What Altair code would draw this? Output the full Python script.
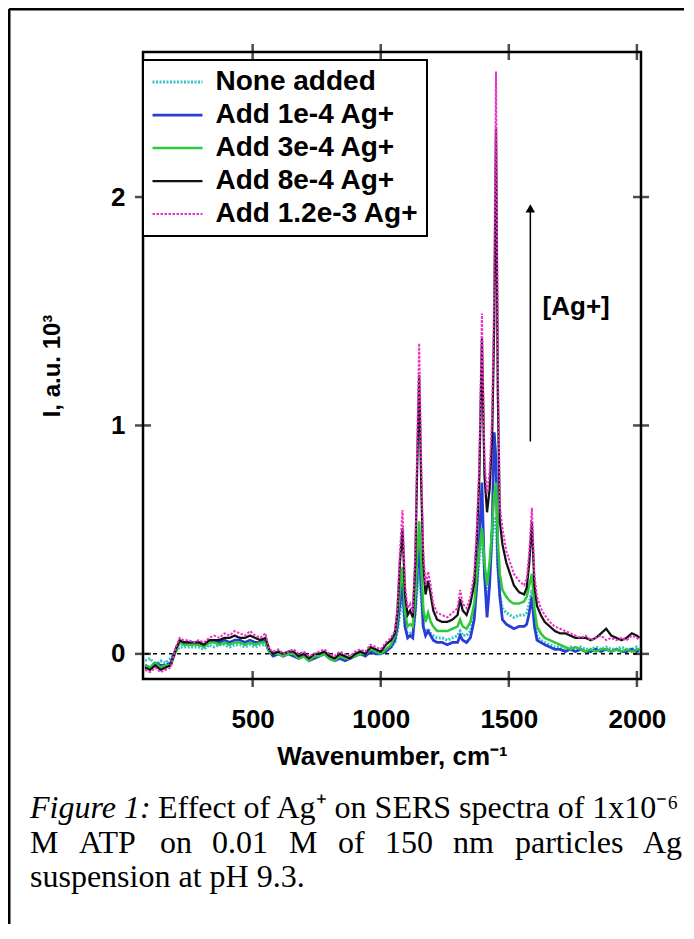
import altair as alt
import pandas as pd

# ---------------- data ----------------
wavenumber = [
    80, 100, 120, 140, 160, 180, 200, 215, 230, 250,
    270, 290, 310, 330, 350, 370, 390, 410, 430, 450,
    470, 490, 510, 530, 550, 565, 580, 600, 620, 640,
    660, 680, 700, 720, 740, 760, 780, 800, 820, 840,
    860, 880, 900, 920, 940, 960, 980, 1000, 1020, 1040,
    1055, 1065, 1075, 1085, 1095, 1105, 1115, 1125, 1135, 1142,
    1150, 1158, 1166, 1175, 1185, 1195, 1205, 1220, 1240, 1260,
    1280, 1300, 1310, 1320, 1335, 1350, 1365, 1375, 1385, 1395,
    1405, 1415, 1425, 1435, 1443, 1450, 1457, 1465, 1475, 1490,
    1505, 1520, 1540, 1560, 1570, 1580, 1590, 1600, 1610, 1625,
    1640, 1660, 1680, 1700, 1720, 1740, 1760, 1780, 1800, 1820,
    1840, 1860, 1880, 1900, 1920, 1940, 1960, 1980, 2000, 2010,
]

none_added = [
    -0.03, -0.02, -0.05, -0.03, -0.04, -0.02, 0.01, 0.03, 0.03, 0.03,
    0.03, 0.03, 0.02, 0.04, 0.03, 0.04, 0.04, 0.03, 0.04, 0.04,
    0.03, 0.04, 0.03, 0.04, 0.04, 0.01, 0.00, 0.01, 0.00, 0.01,
    0.00, -0.01, 0.00, -0.02, -0.01, 0.00, 0.01, -0.01, -0.02, -0.01,
    -0.02, -0.01, 0.00, 0.01, 0.00, 0.02, 0.01, 0.01, 0.02, 0.03,
    0.05, 0.10, 0.18, 0.24, 0.12, 0.08, 0.09, 0.08, 0.18, 0.28,
    0.36, 0.25, 0.12, 0.09, 0.11, 0.09, 0.08, 0.07, 0.07, 0.06,
    0.07, 0.08, 0.10, 0.08, 0.08, 0.10, 0.18, 0.30, 0.42, 0.55,
    0.35, 0.25, 0.35, 0.50, 0.60, 0.58, 0.38, 0.25, 0.20, 0.18,
    0.17, 0.16, 0.17, 0.17, 0.18, 0.22, 0.28, 0.15, 0.08, 0.06,
    0.05, 0.04, 0.03, 0.03, 0.02, 0.03, 0.02, 0.03, 0.02, 0.02,
    0.03, 0.02, 0.03, 0.02, 0.02, 0.03, 0.02, 0.02, 0.03, 0.02,
]

add_1e4 = [
    -0.05, -0.06, -0.04, -0.05, -0.05, -0.04, 0.02, 0.05, 0.05, 0.05,
    0.04, 0.05, 0.04, 0.05, 0.06, 0.05, 0.06, 0.05, 0.06, 0.06,
    0.05, 0.06, 0.05, 0.05, 0.06, 0.01, -0.01, 0.00, -0.01, 0.00,
    -0.01, -0.02, -0.01, -0.03, -0.02, -0.01, 0.00, -0.02, -0.03, -0.02,
    -0.03, -0.02, -0.01, 0.00, -0.01, 0.01, 0.00, 0.00, 0.01, 0.03,
    0.06, 0.12, 0.22, 0.31, 0.12, 0.07, 0.08, 0.07, 0.20, 0.35,
    0.49, 0.30, 0.12, 0.08, 0.10, 0.08, 0.06, 0.05, 0.05, 0.04,
    0.05, 0.05, 0.08, 0.06, 0.05, 0.07, 0.15, 0.30, 0.50, 0.75,
    0.35, 0.16, 0.30, 0.55, 0.97, 0.85, 0.40, 0.25, 0.15, 0.13,
    0.12, 0.11, 0.12, 0.12, 0.13, 0.18, 0.25, 0.12, 0.06, 0.05,
    0.04, 0.03, 0.02, 0.02, 0.01, 0.02, 0.01, 0.02, 0.01, 0.01,
    0.02, 0.01, 0.02, 0.01, 0.02, 0.01, 0.01, 0.02, 0.01, 0.02,
]

add_3e4 = [
    -0.05, -0.06, -0.04, -0.06, -0.05, -0.05, 0.01, 0.05, 0.04, 0.04,
    0.04, 0.04, 0.03, 0.05, 0.05, 0.04, 0.05, 0.04, 0.05, 0.05,
    0.04, 0.05, 0.04, 0.05, 0.05, 0.01, 0.00, 0.00, -0.01, 0.00,
    0.00, -0.02, -0.01, -0.03, -0.01, -0.01, 0.00, -0.02, -0.03, -0.01,
    -0.02, -0.02, -0.01, 0.00, 0.00, 0.02, 0.01, 0.00, 0.02, 0.04,
    0.08, 0.15, 0.28, 0.38, 0.18, 0.12, 0.13, 0.12, 0.25, 0.42,
    0.58, 0.40, 0.20, 0.14, 0.18, 0.14, 0.12, 0.10, 0.10, 0.10,
    0.11, 0.12, 0.15, 0.12, 0.11, 0.14, 0.22, 0.35, 0.45, 0.55,
    0.40, 0.30, 0.40, 0.55, 0.70, 0.75, 0.50, 0.35, 0.28, 0.25,
    0.23, 0.22, 0.22, 0.23, 0.25, 0.30, 0.35, 0.20, 0.12, 0.09,
    0.07, 0.06, 0.05, 0.04, 0.03, 0.02, 0.03, 0.02, 0.01, 0.02,
    0.01, 0.02, 0.02, 0.01, 0.02, 0.01, 0.02, 0.01, 0.02, 0.02,
]

add_8e4 = [
    -0.06, -0.07, -0.05, -0.07, -0.06, -0.05, 0.02, 0.06, 0.05, 0.05,
    0.05, 0.05, 0.04, 0.06, 0.06, 0.06, 0.07, 0.07, 0.08, 0.07,
    0.07, 0.08, 0.07, 0.06, 0.07, 0.02, 0.00, 0.01, 0.00, 0.01,
    0.01, -0.01, 0.00, -0.02, 0.00, 0.00, 0.01, -0.01, -0.02, 0.00,
    -0.01, -0.02, 0.00, 0.01, 0.00, 0.03, 0.02, 0.01, 0.04, 0.06,
    0.09, 0.18, 0.40, 0.55, 0.26, 0.17, 0.19, 0.16, 0.40, 0.80,
    1.22, 0.75, 0.40, 0.26, 0.32, 0.26, 0.19, 0.15, 0.14, 0.14,
    0.15, 0.17, 0.24, 0.19, 0.17, 0.22, 0.31, 0.50, 0.78, 1.38,
    0.78, 0.62, 0.72, 0.95, 1.45, 2.30, 1.15, 0.58, 0.48, 0.40,
    0.35, 0.30, 0.27, 0.26, 0.29, 0.40, 0.58, 0.30, 0.21, 0.17,
    0.14, 0.12, 0.10, 0.09, 0.09, 0.08, 0.07, 0.07, 0.07, 0.06,
    0.07, 0.09, 0.11, 0.08, 0.07, 0.06, 0.07, 0.09, 0.08, 0.07,
]

add_12e3 = [
    -0.07, -0.08, -0.06, -0.08, -0.07, -0.06, 0.03, 0.07, 0.06, 0.06,
    0.05, 0.06, 0.05, 0.07, 0.08, 0.07, 0.09, 0.08, 0.10, 0.09,
    0.08, 0.10, 0.08, 0.07, 0.09, 0.02, 0.01, 0.02, 0.00, 0.01,
    0.02, 0.00, 0.01, -0.01, 0.00, 0.01, 0.02, 0.00, -0.01, 0.01,
    0.00, -0.01, 0.01, 0.02, 0.01, 0.04, 0.03, 0.02, 0.05, 0.07,
    0.10, 0.20, 0.45, 0.63, 0.30, 0.20, 0.22, 0.18, 0.45, 0.90,
    1.36, 0.85, 0.45, 0.30, 0.36, 0.30, 0.22, 0.18, 0.17, 0.16,
    0.18, 0.20, 0.28, 0.22, 0.20, 0.25, 0.35, 0.55, 0.85, 1.49,
    0.85, 0.70, 0.80, 1.05, 1.60, 2.55, 1.30, 0.65, 0.55, 0.45,
    0.40, 0.35, 0.32, 0.30, 0.33, 0.45, 0.64, 0.35, 0.25, 0.20,
    0.17, 0.14, 0.12, 0.11, 0.10, 0.09, 0.08, 0.07, 0.08, 0.06,
    0.07, 0.08, 0.06, 0.07, 0.06, 0.07, 0.06, 0.08, 0.07, 0.06,
]

series_names = ["None added", "Add 1e-4 Ag+", "Add 3e-4 Ag+", "Add 8e-4 Ag+", "Add 1.2e-3 Ag+"]
series_colors = ["#36c4c8", "#2a3cd6", "#2ec83c", "#111111", "#ee30c8"]
series_dash = [[2, 1.5], [1, 0], [1, 0], [1, 0], [2.5, 1.5]]
series_width = [3, 2, 2, 2, 3.5]

x_ticks = [500, 1000, 1500, 2000]
y_ticks = [0, 1, 2]
x_domain = [72, 2016]
y_domain = [-0.11, 2.635]

zero_x = [80]
zero_x2 = [2010]
zero_y = [0]

arrow_x = [1584]
arrow_y = [0.93]
arrow_y2 = [1.95]
note_x = [1763]
note_y = [1.52]
note_text = ["[Ag+]"]

caption_lead = ["Figure 1:"]
caption_line1 = ["Effect of Ag\u207a on SERS spectra of 1x10\u207b\u2076"]
caption_line2_words = ["M", "ATP", "on", "0.01", "M", "of", "150", "nm", "particles", "Ag"]
caption_line2_px = [30, 79, 160, 212, 289, 338, 385, 453, 515, 643]
caption_line3 = ["suspension at pH 9.3."]

# ---------------- build ----------------
rows = []
for name, vals in zip(series_names, [none_added, add_1e4, add_3e4, add_8e4, add_12e3]):
    for w, v in zip(wavenumber, vals):
        rows.append({"wn": w, "I": v, "series": name})
df = pd.DataFrame(rows)

W, H = 498, 627
LEFT, TOP = 143, 52  # page position of the plot origin
SANS = "Liberation Sans"
SERIF = "Liberation Serif"

xs = alt.Scale(domain=x_domain, nice=False, zero=False)
ys = alt.Scale(domain=y_domain, nice=False, zero=False)

x_axis = alt.Axis(
    values=x_ticks, ticks=False, tickSize=0, domain=False, grid=False, format="d",
    labelFont=SANS, labelFontSize=26, labelFontWeight="bold", labelColor="black",
    labelPadding=27, labelFlush=False,
    title="Wavenumber, cm\u207b\u00b9", titleFont=SANS, titleFontSize=26,
    titleFontWeight="bold", titleColor="black", titlePadding=11)
y_axis = alt.Axis(
    values=y_ticks, ticks=False, tickSize=0, domain=False, grid=False, format="d",
    labelFont=SANS, labelFontSize=26, labelFontWeight="bold", labelColor="black",
    labelPadding=18,
    title="I, a.u. 10\u00b3", titleFont=SANS, titleFontSize=24,
    titleFontWeight="bold", titleColor="black", titlePadding=46)

leg = alt.Legend(
    title=None, orient="none", legendX=0, legendY=8,
    symbolType="M-2,0H2", symbolSize=625, symbolOffset=12.5,
    labelOffset=24, labelFontSize=28, labelFont=SANS, labelFontWeight="bold",
    labelColor="black", labelLimit=400, rowPadding=5, padding=8,
    strokeColor="black", fillColor="white", cornerRadius=0,
)

lines = alt.Chart(df).mark_line(clip=True).encode(
    x=alt.X("wn:Q", scale=xs, axis=x_axis),
    y=alt.Y("I:Q", scale=ys, axis=y_axis),
    color=alt.Color("series:N", scale=alt.Scale(domain=series_names, range=series_colors), legend=leg),
    strokeDash=alt.StrokeDash("series:N", scale=alt.Scale(domain=series_names, range=series_dash), legend=leg),
    strokeWidth=alt.StrokeWidth("series:N", scale=alt.Scale(domain=series_names, range=series_width), legend=leg),
)

zero = alt.Chart(pd.DataFrame({"x": zero_x, "x2": zero_x2, "y": zero_y})).mark_rule(
    color="black", strokeDash=[4, 4], strokeWidth=1.5
).encode(x=alt.X("x:Q", scale=xs, axis=x_axis), x2="x2:Q", y=alt.Y("y:Q", scale=ys, axis=y_axis))

xt = pd.DataFrame({"t": x_ticks})
yt = pd.DataFrame({"t": y_ticks})
tick_style = dict(size=16, thickness=2.5, color="black")
bottom_ticks = alt.Chart(xt).mark_tick(orient="vertical", **tick_style).encode(
    x=alt.X("t:Q", scale=xs, axis=x_axis), y=alt.value(H))
top_ticks = alt.Chart(xt).mark_tick(orient="vertical", **tick_style).encode(
    x=alt.X("t:Q", scale=xs, axis=x_axis), y=alt.value(0))
left_ticks = alt.Chart(yt).mark_tick(orient="horizontal", **tick_style).encode(
    y=alt.Y("t:Q", scale=ys, axis=y_axis), x=alt.value(0))
right_ticks = alt.Chart(yt).mark_tick(orient="horizontal", **tick_style).encode(
    y=alt.Y("t:Q", scale=ys, axis=y_axis), x=alt.value(W))

arrow_df = pd.DataFrame({"x": arrow_x, "y": arrow_y, "y2": arrow_y2})
arrow = alt.Chart(arrow_df).mark_rule(color="black", strokeWidth=1.5).encode(
    x=alt.X("x:Q", scale=xs, axis=x_axis), y=alt.Y("y:Q", scale=ys, axis=y_axis), y2="y2:Q")
arrow_head = alt.Chart(arrow_df).mark_point(shape="triangle-up", filled=True, color="black",
                                            size=90, opacity=1).encode(
    x=alt.X("x:Q", scale=xs, axis=x_axis), y=alt.Y("y2:Q", scale=ys, axis=y_axis))
note = alt.Chart(pd.DataFrame({"x": note_x, "y": note_y, "t": note_text})).mark_text(
    font=SANS, fontSize=26, fontWeight="bold", color="black", align="center", baseline="middle"
).encode(x=alt.X("x:Q", scale=xs, axis=x_axis), y=alt.Y("y:Q", scale=ys, axis=y_axis), text="t:N")

dummy = pd.DataFrame({"a": [0]})
frame_top = alt.Chart(dummy).mark_rule(color="black", strokeWidth=3).encode(
    x=alt.value(9 - LEFT), x2=alt.value(700 - LEFT), y=alt.value(9 - TOP))
frame_left = alt.Chart(dummy).mark_rule(color="black", strokeWidth=3).encode(
    x=alt.value(9 - LEFT), y=alt.value(9 - TOP), y2=alt.value(940 - TOP))


def cap(texts, x, y, style="normal"):
    return alt.Chart(pd.DataFrame({"t": texts})).mark_text(
        font=SERIF, fontSize=32, fontStyle=style, color="black", align="left", baseline="alphabetic"
    ).encode(x=alt.value(x - LEFT), y=alt.value(y - TOP), text="t:N")


captions = [
    cap(caption_lead, 30, 818, "italic"),
    cap(caption_line1, 158, 818),
    cap(caption_line3, 30, 887),
]
captions += [cap([w], px, 853) for w, px in zip(caption_line2_words, caption_line2_px)]

chart = alt.layer(
    zero, lines, bottom_ticks, top_ticks, left_ticks, right_ticks,
    arrow, arrow_head, note, frame_top, frame_left, *captions
).properties(
    width=W, height=H,
    autosize=alt.AutoSizeParams(type="none"),
    padding={"left": LEFT - 8, "top": TOP - 8, "right": 43, "bottom": 245},
    background="white",
).configure_view(stroke="black", strokeWidth=2.5).configure_legend(strokeWidth=2)

chart.save("out.html", embed_options={"renderer": "svg", "actions": False})
